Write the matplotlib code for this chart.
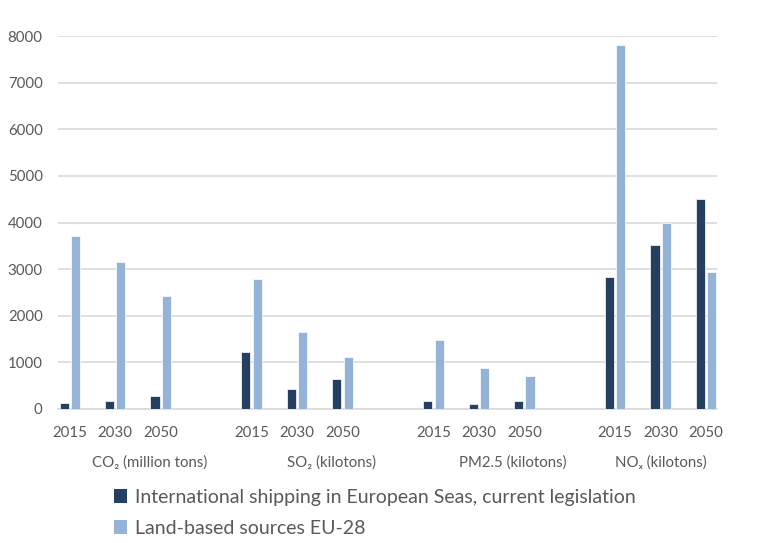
import numpy as np
import matplotlib.pyplot as plt
from matplotlib.patches import Patch
from matplotlib.transforms import blended_transform_factory

# Emissions data
years = ['2015', '2030', '2050']
groups = ['CO\u2082 (million tons)', 'SO\u2082 (kilotons)',
          'PM2.5 (kilotons)', 'NO\u2093 (kilotons)']
shipping = [130, 180, 285, 1220, 430, 635, 170, 115, 180, 2830, 3520, 4500]
land = [3720, 3145, 2430, 2790, 1655, 1115, 1480, 870, 700, 7810, 4000, 2935]
series_names = ['International shipping in European Seas, current legislation',
                'Land-based sources EU-28']

plt.rcParams['font.family'] = ['Lato', 'DejaVu Sans']
txt = '#595959'
dark = '#253F60'
light = '#95B3D7'

fig = plt.figure(figsize=(7.57, 5.43), dpi=100)
ax = fig.add_axes([58/757, 1-409/543, (717-58)/757, (409-36)/543])

# slot positions: 3 years per group plus one empty slot between groups
pos = np.array([g*4 + k for g in range(4) for k in range(3)])
w = 0.2
ax.bar(pos-0.125, shipping, w, color=dark, edgecolor='white', linewidth=0.5,
       zorder=3)
ax.bar(pos+0.125, land, w, color=light, edgecolor='white', linewidth=0.5,
       zorder=3)

ax.set_xlim(-0.26, 14.24)
ax.set_ylim(0, 8000)
ax.set_yticks(np.arange(0, 8001, 1000))
ax.set_xticks(pos)
ax.set_xticklabels(years*4)
ax.tick_params(axis='y', length=0, pad=11, labelsize=10.8, labelcolor=txt)
ax.tick_params(axis='x', length=0, pad=12, labelsize=10.8, labelcolor=txt)
ax.yaxis.grid(True, color='#D9D9D9', linewidth=1.2, zorder=0)
for s in ['top', 'right', 'left']:
    ax.spines[s].set_visible(False)
ax.spines['bottom'].set_color('#D9D9D9')
ax.spines['bottom'].set_linewidth(1.2)

# group labels under the years
trans = blended_transform_factory(ax.transData, fig.transFigure)
grp_x = [1.75, 5.75, 9.75, 13.0]
for gx, lab in zip(grp_x, groups):
    ax.text(gx, 1-463/543, lab, transform=trans, ha='center', va='center',
            fontsize=10.8, color=txt)

handles = [Patch(facecolor=dark), Patch(facecolor=light)]
fig.legend(handles, series_names, loc='upper left',
           bbox_to_anchor=(96/757, 1-471/543), frameon=False,
           fontsize=14, labelcolor=txt, handlelength=0.7, handleheight=0.7,
           handletextpad=0.4, labelspacing=0.75)

fig.savefig('out.png', dpi=100)
